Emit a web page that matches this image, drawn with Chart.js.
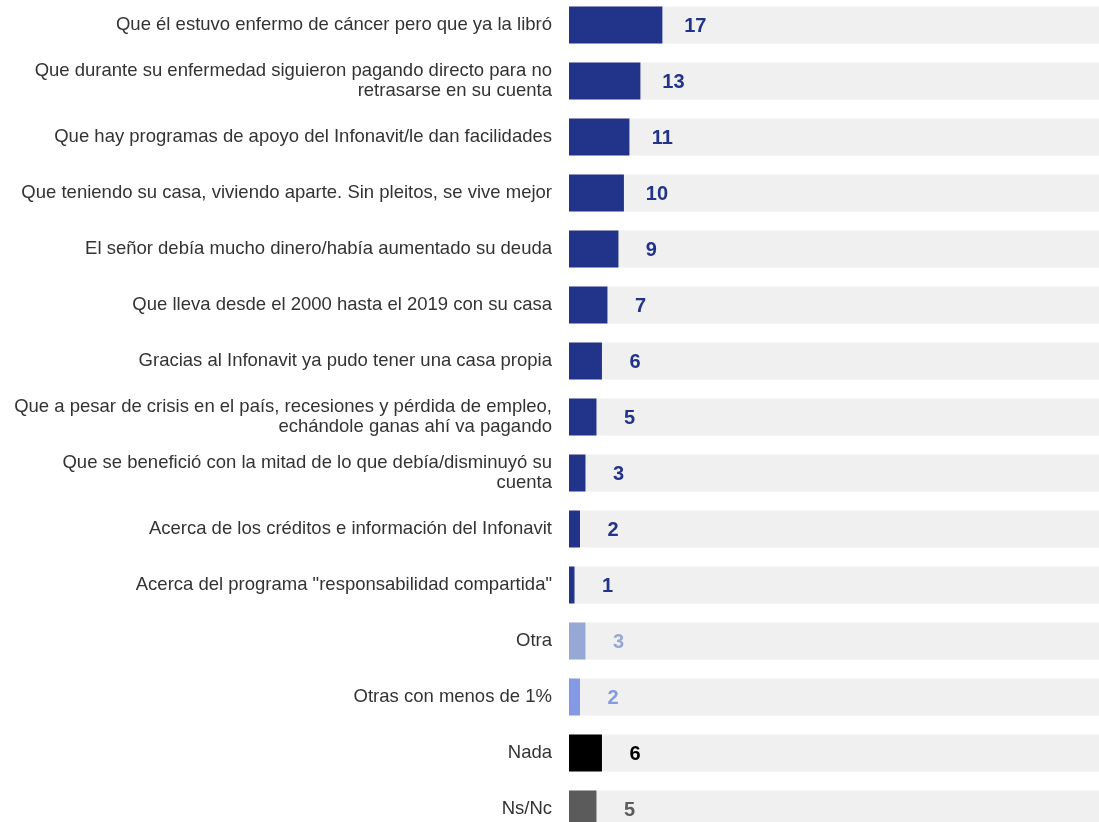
<!DOCTYPE html>
<html>
<head>
<meta charset="utf-8">
<script src="https://cdn.jsdelivr.net/npm/chart.js@4.4.1/dist/chart.umd.min.js"></script>
<style>
  html, body { margin: 0; padding: 0; background: #fff; overflow: hidden; }
  #wrap { position: absolute; left: 0; top: -3px; width: 1099px; height: 840px; }
</style>
</head>
<body>
<div id="wrap"><canvas id="myChart"></canvas></div>
<script>
// data
const categorias = [
    'Que él estuvo enfermo de cáncer pero que ya la libró',
    ['Que durante su enfermedad siguieron pagando directo para no', 'retrasarse en su cuenta'],
    'Que hay programas de apoyo del Infonavit/le dan facilidades',
    'Que teniendo su casa, viviendo aparte. Sin pleitos, se vive mejor',
    'El señor debía mucho dinero/había aumentado su deuda',
    'Que lleva desde el 2000 hasta el 2019 con su casa',
    'Gracias al Infonavit ya pudo tener una casa propia',
    ['Que a pesar de crisis en el país, recesiones y pérdida de empleo,', 'echándole ganas ahí va pagando'],
    ['Que se benefició con la mitad de lo que debía/disminuyó su', 'cuenta'],
    'Acerca de los créditos e información del Infonavit',
    'Acerca del programa "responsabilidad compartida"',
    'Otra',
    'Otras con menos de 1%',
    'Nada',
    'Ns/Nc'
];
const valores = [17, 13, 11, 10, 9, 7, 6, 5, 3, 2, 1, 3, 2, 6, 5];
const fondo = [100, 100, 100, 100, 100, 100, 100, 100, 100, 100, 100, 100, 100, 100, 100];
const colores = [
    '#22338a', '#22338a', '#22338a', '#22338a', '#22338a', '#22338a', '#22338a',
    '#22338a', '#22338a', '#22338a', '#22338a',
    '#98a8d4', '#8499e3', '#000000', '#5b5b5b'
];

//value labels
const etiquetas = {
    id: 'etiquetas',
    afterDatasetsDraw(chart) {
        const ctx = chart.ctx;
        const meta = chart.getDatasetMeta(0);
        const x = chart.scales.x;
        ctx.save();
        ctx.font = 'bold 20px "Liberation Sans", Arial, sans-serif';
        ctx.textAlign = 'center';
        ctx.textBaseline = 'middle';
        meta.data.forEach((bar, i) => {
            ctx.fillStyle = colores[i];
            ctx.fillText(valores[i], x.getPixelForValue(valores[i]) + 33, bar.y + 1);
        });
        ctx.restore();
    }
};

const ctx = document.getElementById('myChart').getContext('2d');
const myChart = new Chart(ctx, {
    type: 'bar',
    data: {
        labels: categorias,
        datasets: [{
            data: valores,
            backgroundColor: colores,
            order: 0,
            barPercentage: 1,
            categoryPercentage: 0.66
        }, {
            data: fondo,
            backgroundColor: '#f0f0f0',
            order: 1,
            barPercentage: 1,
            categoryPercentage: 0.66
        }]
    },
    options: {
        indexAxis: 'y',
        responsive: true,
        maintainAspectRatio: false,
        animation: false,
        layout: { padding: 0 },
        plugins: {
            legend: { display: false },
            tooltip: { enabled: false }
        },
        scales: {
            x: {
                display: false,
                min: 0,
                max: 96.5
            },
            y: {
                stacked: true,
                grid: { display: false, drawTicks: false },
                border: { display: false },
                ticks: {
                    color: '#333333',
                    padding: 17,
                    autoSkip: false,
                    font: { family: '"Liberation Sans", Arial, sans-serif', size: 18.5, lineHeight: 1.1 }
                },
                afterFit(scale) {
                    scale.width = 569;
                    scale.paddingTop = 0;
                    scale.paddingBottom = 0;
                }
            }
        }
    },
    plugins: [etiquetas]
});
</script>
</body>
</html>
